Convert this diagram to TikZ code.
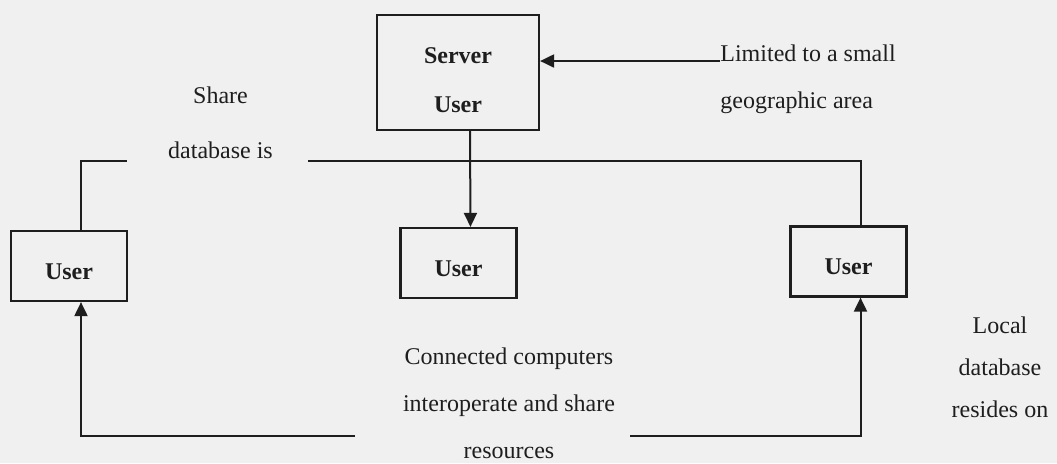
\documentclass[tikz,border=0pt]{standalone}
\usepackage{fontspec}
\setmainfont{Liberation Serif}
\usetikzlibrary{arrows.meta}
\definecolor{paper}{HTML}{F0F0F0}
\definecolor{ink}{HTML}{1E1E1E}
\tikzset{
  ubox/.style={draw=ink, text=ink, line width=1.1pt, inner sep=0pt, minimum width=58pt, minimum height=35pt, font=\fontsize{12}{14}\selectfont\bfseries, text height=13pt, text depth=0pt},
  note/.style={text=ink, inner sep=0pt, align=center, font=\fontsize{12}{#1}\selectfont},
  arr/.style={-{Triangle[length=7pt,width=6.5pt]}, line width=1pt, ink},
  wire/.style={line width=1pt, ink}}

\begin{document}
\begin{tikzpicture}[x=0.5pt, y=-0.5pt]
\fill[paper] (0,0) rectangle (1057,463);
\useasboundingbox (0,0) rectangle (1057,463);
% boxes
\node[ubox, minimum width=81pt, minimum height=57.5pt, align=center, text height=39.5pt, text depth=0pt, font=\fontsize{12}{24.5}\selectfont\bfseries] (server) at (458,72.5) {Server\\User};
\node[ubox] (luser) at (69,266) {User};
\node[ubox] (muser) at (458.5,263) {User};
\node[ubox] (ruser) at (848.5,261.5) {User};
% texts (base = last line)
\node[note=27.5, anchor=base] (share) at (220.5,158) {Share\\database is};
\node[note=23.5, anchor=base west, align=left] (limit) at (720,108) {Limited to a small\\geographic area};
\node[note=23.5, anchor=base] (comp) at (509,458) {Connected computers\\interoperate and share\\resources};
\node[note=21, anchor=base] (local) at (1000,417) {Local\\database\\resides on};
% loose line ends
\coordinate (lt) at ([yshift=23.5pt]limit.base west);
\coordinate (sl) at (127,161);
\coordinate (sr) at (308,161);
\coordinate (bl) at (355,436);
\coordinate (br) at (630,436);
% connectors
\draw[arr] (lt) -- (lt -| server.east);
\draw[arr] ([xshift=6pt]server.south) -- ([xshift=6pt]muser.north);
\draw[wire] ([xshift=6pt]luser.north) |- (sl);
\draw[wire] (sr) -| ([xshift=6pt]ruser.north);
\draw[arr] (bl) -| ([xshift=6pt]luser.south);
\draw[arr] (br) -| ([xshift=6pt]ruser.south);
\end{tikzpicture}
\end{document}
